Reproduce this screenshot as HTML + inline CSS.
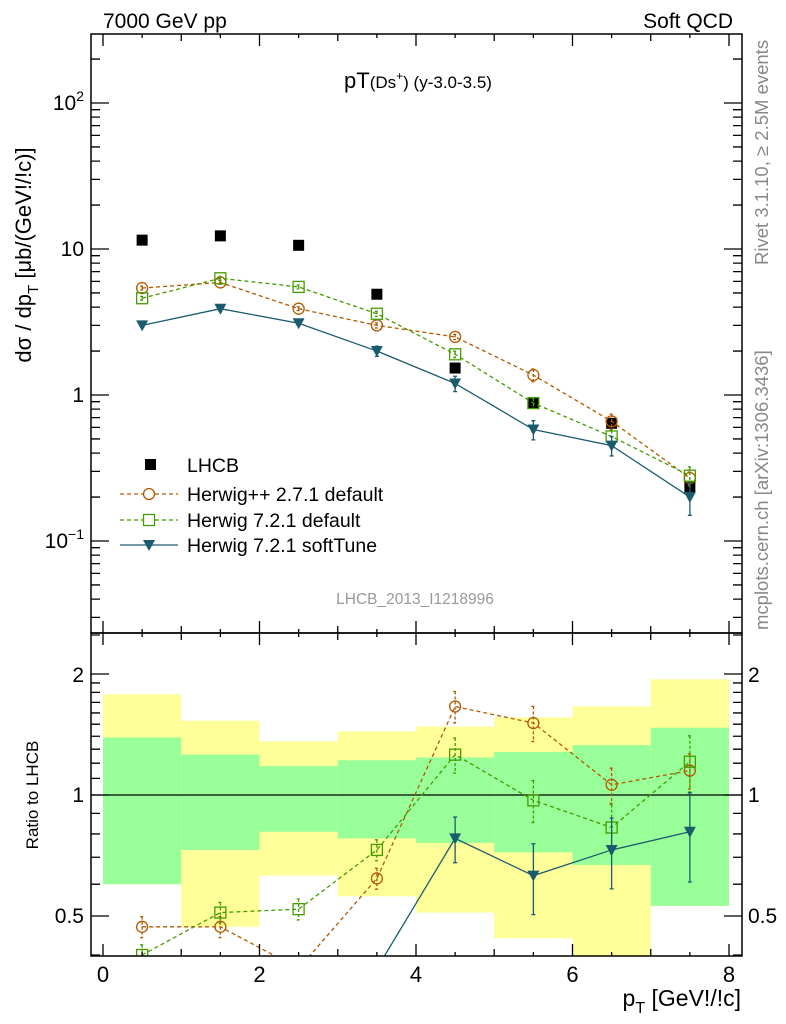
<!DOCTYPE html>
<html><head><meta charset="utf-8"><style>
body{margin:0;background:#fff}
svg{display:block;font-family:"Liberation Sans",sans-serif}
</style></head><body>
<svg id="c" width="786" height="1024" xmlns="http://www.w3.org/2000/svg"></svg>
<script>
const xs=[0.5,1.5,2.5,3.5,4.5,5.5,6.5,7.5];
const lhcb=[11.5,12.3,10.6,4.9,1.53,0.88,0.64,0.235];
const hpp=[5.4,5.9,3.9,3.0,2.5,1.37,0.66,0.27];
const h721=[4.6,6.3,5.5,3.6,1.9,0.88,0.52,0.28];
const soft=[3.0,3.9,3.1,2.0,1.2,0.58,0.45,0.20];
const softErr=[0.03,0.03,0.03,0.08,0.12,0.15,0.15,0.25];
const hppErr=[0.03,0.03,0.03,0.04,0.04,0.1,0.12,0.1];
const h721Err=[0.03,0.03,0.03,0.04,0.05,0.08,0.1,0.15];
const rHpp=[0.47,0.47,0.37,0.62,1.66,1.51,1.06,1.15];
const rH721=[0.40,0.51,0.52,0.73,1.26,0.97,0.83,1.21];
const rSoft=[0.25,0.31,0.29,0.37,0.78,0.63,0.73,0.81];
const rSoftErr=[0.05,0.05,0.05,0.05,0.13,0.2,0.2,0.25];
const rHppErr=[0.06,0.06,0.06,0.06,0.09,0.1,0.1,0.1];
const rH721Err=[0.06,0.06,0.06,0.06,0.1,0.12,0.14,0.16];
const yelTop=[1.78,1.53,1.36,1.44,1.48,1.56,1.66,1.94];
const yelBot=[0.60,0.47,0.63,0.56,0.51,0.44,0.38,0.53];
const grnTop=[1.39,1.26,1.18,1.22,1.24,1.28,1.33,1.47];
const grnBot=[0.60,0.73,0.81,0.78,0.76,0.72,0.67,0.53];
const xTicks=[0,2,4,6,8];

const L=91,R=742,T=34,M=633,B=956;
const X=v=>103+v*78.25;
const Y=v=>395-146*Math.log10(v);
const YR=v=>795-402*Math.log10(v);
const svg=document.getElementById('c');
const NS='http://www.w3.org/2000/svg';
function el(tag,attrs,txt){const e=document.createElementNS(NS,tag);for(const k in attrs)e.setAttribute(k,attrs[k]);if(txt!==undefined)e.textContent=txt;svg.appendChild(e);return e;}

for(let i=0;i<8;i++){
 let b=el('rect',{x:X(i),y:YR(yelTop[i]),width:78.25,height:Math.min(B,YR(yelBot[i]))-YR(yelTop[i]),fill:'#ffff99'});
 
 
 let g=el('rect',{x:X(i),y:YR(grnTop[i]),width:78.25,height:YR(grnBot[i])-YR(grnTop[i]),fill:'#99ff99'});
 
 
}
el('line',{x1:L,x2:R,y1:795,y2:795,stroke:'#000','stroke-width':1.3});

const defs=el('defs',{});
defs.innerHTML='<clipPath id="cm"><rect x="91" y="34" width="651" height="599"/></clipPath><clipPath id="cr"><rect x="91" y="633" width="651" height="323"/></clipPath>';

function series(vals,errs,fy,color,dash,marker,clip,name){
 const g=el('g',{'clip-path':'url(#'+clip+')'});
 
 
 const pts=xs.map((x,i)=>X(x)+','+fy(vals[i])).join(' ');
 const pl=document.createElementNS(NS,'polyline');
 pl.setAttribute('points',pts);pl.setAttribute('fill','none');pl.setAttribute('stroke',color);pl.setAttribute('stroke-width',1.3);
 if(dash)pl.setAttribute('stroke-dasharray','4,3');
 g.appendChild(pl);
 xs.forEach((x,i)=>{
  const cx=X(x),cy=fy(vals[i]);
  const lo=fy(vals[i]*(1-errs[i])),hi=fy(vals[i]*(1+errs[i]));
  const e=document.createElementNS(NS,'path');
  e.setAttribute('d',`M${cx},${hi}V${lo}M${cx-2},${hi}H${cx+2}M${cx-2},${lo}H${cx+2}`);
  e.setAttribute('stroke',color);e.setAttribute('stroke-width',1.3);
  if(dash)e.setAttribute('stroke-dasharray','3,2');
  g.appendChild(e);
  let m;
  if(marker==='c'){m=document.createElementNS(NS,'circle');m.setAttribute('cx',cx);m.setAttribute('cy',cy);m.setAttribute('r',5.5);m.setAttribute('fill','none');m.setAttribute('stroke',color);m.setAttribute('stroke-width',1.3);}
  else if(marker==='s'){m=document.createElementNS(NS,'rect');m.setAttribute('x',cx-5.5);m.setAttribute('y',cy-5.5);m.setAttribute('width',11);m.setAttribute('height',11);m.setAttribute('fill','none');m.setAttribute('stroke',color);m.setAttribute('stroke-width',1.3);}
  else {m=document.createElementNS(NS,'path');m.setAttribute('d',`M${cx-6},${cy-5}H${cx+6}L${cx},${cy+6}Z`);m.setAttribute('fill',color);}
  
  
  g.appendChild(m);
 });
 svg.appendChild(g);
}
const cB='#b35900',cG='#449c00',cS='#1a5c6e';
xs.forEach((x,i)=>{const r=el('rect',{x:X(x)-5.5,y:Y(lhcb[i])-5.5,width:11,height:11,fill:'#000'});
 
 });
series(hpp,hppErr,Y,cB,true,'c','cm','herwigpp-series');
series(h721,h721Err,Y,cG,true,'s','cm','herwig721-series');
series(soft,softErr,Y,cS,false,'t','cm','softtune-series');
series(rHpp,rHppErr,YR,cB,true,'c','cr','ratio-herwigpp');
series(rH721,rH721Err,YR,cG,true,'s','cr','ratio-herwig721');
series(rSoft,rSoftErr,YR,cS,false,'t','cr','ratio-softtune');

el('rect',{x:L,y:T,width:R-L,height:M-T,fill:'none',stroke:'#000','stroke-width':1.5,});
el('rect',{x:L,y:M,width:R-L,height:B-M,fill:'none',stroke:'#000','stroke-width':1.5,});
let tp='';
for(let v=0;v<=8;v+=0.5){const x=X(v);const len=(v%2===0)?12:(v%1===0?7:4);
 tp+=`M${x},${M}v${-len}M${x},${T}v${len}M${x},${B}v${-len}M${x},${M}v${len}`;}
for(let d=-2;d<=2;d++)for(let k=1;k<10;k++){const v=k*Math.pow(10,d);const y=Y(v);if(y<T||y>M)continue;const len=k===1?18:9;tp+=`M${L},${y}h${len}M${R},${y}h${-len}`;}
[0.4,0.5,0.6,0.7,0.8,0.9,1,1.1,1.2,1.3,1.4,1.5,1.6,1.7,1.8,1.9,2,2.5].forEach(v=>{const y=YR(v);if(y<M||y>B)return;const len=(v===0.5||v===1||v===2)?18:9;tp+=`M${L},${y}h${len}M${R},${y}h${-len}`;});
el('path',{d:tp,stroke:'#000','stroke-width':1.3,fill:'none',});
xTicks.forEach(v=>{const t=el('text',{x:X(v),y:982,'font-size':22,'text-anchor':'middle'},String(v));
 
 });
</script>
<svg width="786" height="1024" style="position:absolute;left:0;top:0" font-family="Liberation Sans, sans-serif">
<text x="103" y="28" font-size="21">7000 GeV pp</text>
<text x="733" y="28" font-size="21" text-anchor="end">Soft QCD</text>
<text x="418" y="88" font-size="22" text-anchor="middle">pT<tspan font-size="17">(Ds<tspan dy="-8" font-size="12">+</tspan><tspan dy="8">) (y-3.0-3.5)</tspan></tspan></text>
<text x="415" y="604" font-size="15.5" fill="#999" text-anchor="middle">LHCB_2013_I1218996</text>
<g font-size="21" text-anchor="end">
<text x="84" y="110">10<tspan dy="-9" font-size="14">2</tspan></text>
<text x="84" y="256">10</text>
<text x="84" y="402">1</text>
<text x="84" y="548">10<tspan dy="-9" font-size="14">−1</tspan></text>
<text x="84" y="682">2</text>
<text x="84" y="802">1</text>
<text x="84" y="923">0.5</text>
</g>
<g font-size="21">
<text x="748" y="682">2</text><text x="748" y="802">1</text><text x="748" y="923">0.5</text>
</g>
<text transform="translate(31,255) rotate(-90)" font-size="22" text-anchor="middle">dσ / dp<tspan dy="7" font-size="15">T</tspan><tspan dy="-7"> [μb/(GeV!/!c)]</tspan></text>
<text transform="translate(38,795) rotate(-90)" font-size="17" text-anchor="middle">Ratio to LHCB</text>
<text x="741" y="1006" font-size="23" text-anchor="end">p<tspan dy="7" font-size="16">T</tspan><tspan dy="-7"> [GeV!/!c]</tspan></text>
<text transform="translate(768,265) rotate(-90)" font-size="18.5" fill="#888">Rivet 3.1.10, ≥ 2.5M events</text>
<text transform="translate(768,630) rotate(-90)" font-size="18.5" fill="#888">mcplots.cern.ch [arXiv:1306.3436]</text>
<g font-size="19.5">
<rect x="145" y="459" width="11" height="11" fill="#000"/><text x="187" y="472">LHCB</text>
<line x1="120" y1="494" x2="178" y2="494" stroke="#b35900" stroke-width="1.3" stroke-dasharray="4,3"/><circle cx="149" cy="494" r="5.5" fill="#fff" stroke="#b35900" stroke-width="1.3"/><text x="187" y="501">Herwig++ 2.7.1 default</text>
<line x1="120" y1="520" x2="178" y2="520" stroke="#449c00" stroke-width="1.3" stroke-dasharray="4,3"/><rect x="143.5" y="514.5" width="11" height="11" fill="#fff" stroke="#449c00" stroke-width="1.3"/><text x="187" y="527">Herwig 7.2.1 default</text>
<line x1="120" y1="545" x2="178" y2="545" stroke="#1a5c6e" stroke-width="1.3"/><path d="M143,540H155L149,551Z" fill="#1a5c6e"/><text x="187" y="552">Herwig 7.2.1 softTune</text>
</g>
</svg>
</body></html>
